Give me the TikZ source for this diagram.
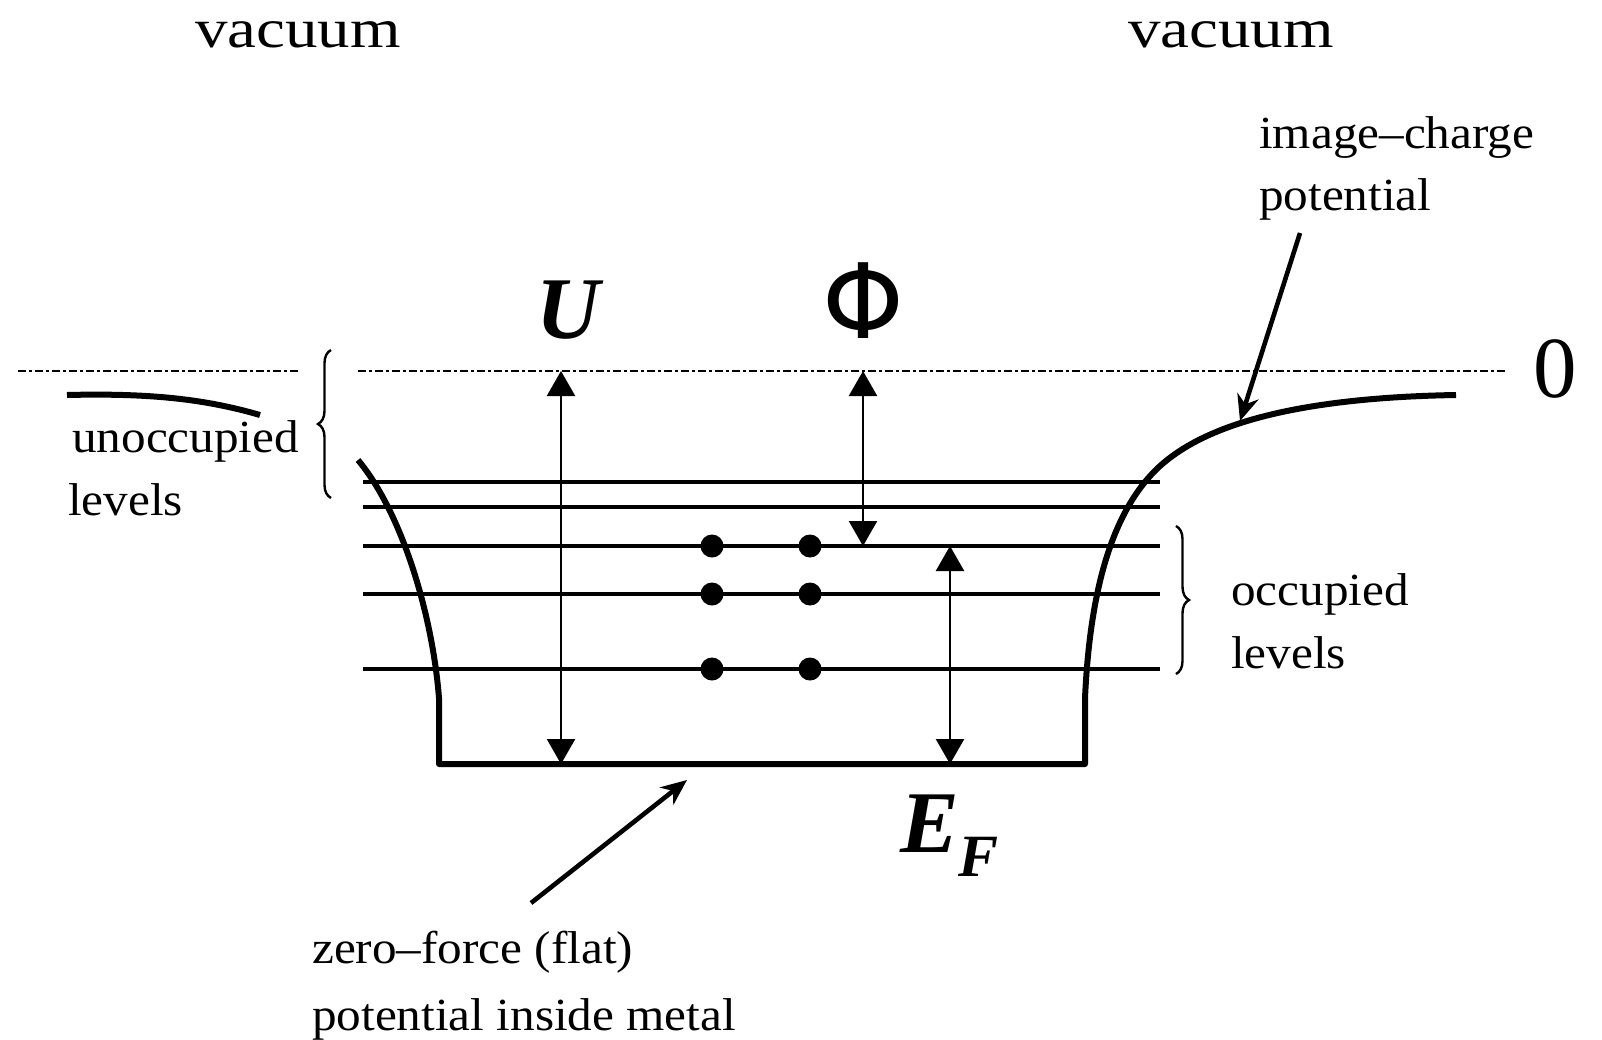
\documentclass[tikz,border=0pt]{standalone}
\usepackage{fontspec}
\setmainfont{Liberation Serif}
\newfontfamily\lblfont[FakeStretch=1.07]{Liberation Serif}
\newfontfamily\vacfont[FakeStretch=1.18]{Liberation Serif}
\newfontfamily\phifont{DejaVu Sans}
\usetikzlibrary{arrows.meta,decorations.pathreplacing}
\begin{document}
\begin{tikzpicture}[x=1pt,y=-1pt,
  lbl/.style={font=\fontsize{46}{55}\lblfont, inner sep=0pt, anchor=base west},
  vac/.style={font=\fontsize{55}{66}\vacfont, inner sep=0pt, anchor=base},
  sym/.style={font=\fontsize{88}{100}\selectfont\bfseries\itshape, inner sep=0pt, anchor=base},
  level/.style={line width=3.2pt},
  wall/.style={line width=6pt, line join=round},
  zero/.style={line width=2.8pt, dash pattern=on 8pt off 3pt on 3pt off 3pt},
  dimarrow/.style={line width=2.5pt, {Triangle[width=28pt,length=25pt]}-{Triangle[width=28pt,length=25pt]}},
  pointer/.style={line width=4.6pt, -{Stealth[length=26pt,width=22pt]}},
  electron/.style={circle, fill=black, inner sep=0pt, minimum size=23pt},
  bracestyle/.style={line width=2.4pt, decorate, decoration={brace, amplitude=13pt}}
]
\useasboundingbox[fill=white] (0,0) rectangle (1602,1039);

% labels
\node[vac] (vacL) at (298,47) {vacuum};
\node[vac] (vacR) at (1231,47) {vacuum};
\node[lbl] (imgc1) at (1259,148) {image–charge};
\node[lbl] (imgc2) at (1259,210) {potential};
\node[lbl] (unocc1) at (72,452) {unoccupied};
\node[lbl] (unocc2) at (68,515) {levels};
\node[lbl] (occ1) at (1231,605) {occupied};
\node[lbl] (occ2) at (1231,668) {levels};
\node[lbl] (zf1) at (312,963) {zero–force (flat)};
\node[lbl] (zf2) at (312,1030) {potential inside metal};
\node[font=\fontsize{87}{100}\selectfont, inner sep=0pt, anchor=base] (zeroL) at (1555,397) {0};
\node[sym] (Ulab) at (568,338) {U};
\node[font=\fontsize{104}{110}\phifont, inner sep=0pt, anchor=base] (Philab) at (863,338) {Φ};
\node[sym, anchor=base west] (EFlab) at (900,852) {E\raisebox{-24pt}{\fontsize{60}{60}\selectfont F}};

% zero (vacuum) level
\coordinate (zL1) at (18,371);
\coordinate (zL2) at (298,371);
\coordinate (zR1) at (358,371);
\coordinate (zR2) at (1505,371);
\draw[zero] (zL1) -- (zL2);
\draw[zero] (zR1) -- (zR2);

% energy levels
\foreach \y/\n in {482/a,507/b,546/c,594/d,669/e}{
  \coordinate (lv\n1) at (363,\y);
  \coordinate (lv\n2) at (1160,\y);
  \draw[level] (lv\n1) -- (lv\n2);
}

% potential well
\coordinate (wTL) at (358,460);
\coordinate (wBL) at (439,764);
\coordinate (wBR) at (1085,764);
\coordinate (wEnd) at (1456,395);
\draw[wall] (wTL) .. controls (400,510) and (432,610) .. (439,698) -- (wBL) -- (wBR)
  -- (1085,698) .. controls (1090,590) and (1112,510) .. (1160,466)
  .. controls (1200,430) and (1280,398) .. (wEnd);
\coordinate (sL1) at (67,395);
\coordinate (sL2) at (260,415);
\draw[wall] (sL1) .. controls (150,393) and (205,399) .. (sL2);

% electrons
\foreach \y/\n in {546/c,594/d,669/e}{
  \node[electron] (el\n1) at (712,\y) {};
  \node[electron] (el\n2) at (810,\y) {};
}

% dimension arrows
\coordinate (Ut) at (561,371);
\coordinate (Ub) at (561,764);
\draw[dimarrow] (Ut) -- (Ub);
\coordinate (Pt) at (863,371);
\coordinate (Pb) at (863,546);
\draw[dimarrow] (Pt) -- (Pb);
\coordinate (Et) at (950,546);
\coordinate (Eb) at (950,764);
\draw[dimarrow] (Et) -- (Eb);

% braces
\coordinate (bL1) at (331,498);
\coordinate (bL2) at (331,350);
\draw[bracestyle] (bL1) -- (bL2);
\coordinate (bR1) at (1176,526);
\coordinate (bR2) at (1176,674);
\draw[bracestyle] (bR1) -- (bR2);

% pointers
\coordinate (pI1) at (1300,233);
\coordinate (pI2) at (1240,421);
\draw[pointer] (pI1) -- (pI2);
\coordinate (pZ1) at (531,903);
\coordinate (pZ2) at (687,780);
\draw[pointer] (pZ1) -- (pZ2);
\end{tikzpicture}
\end{document}
